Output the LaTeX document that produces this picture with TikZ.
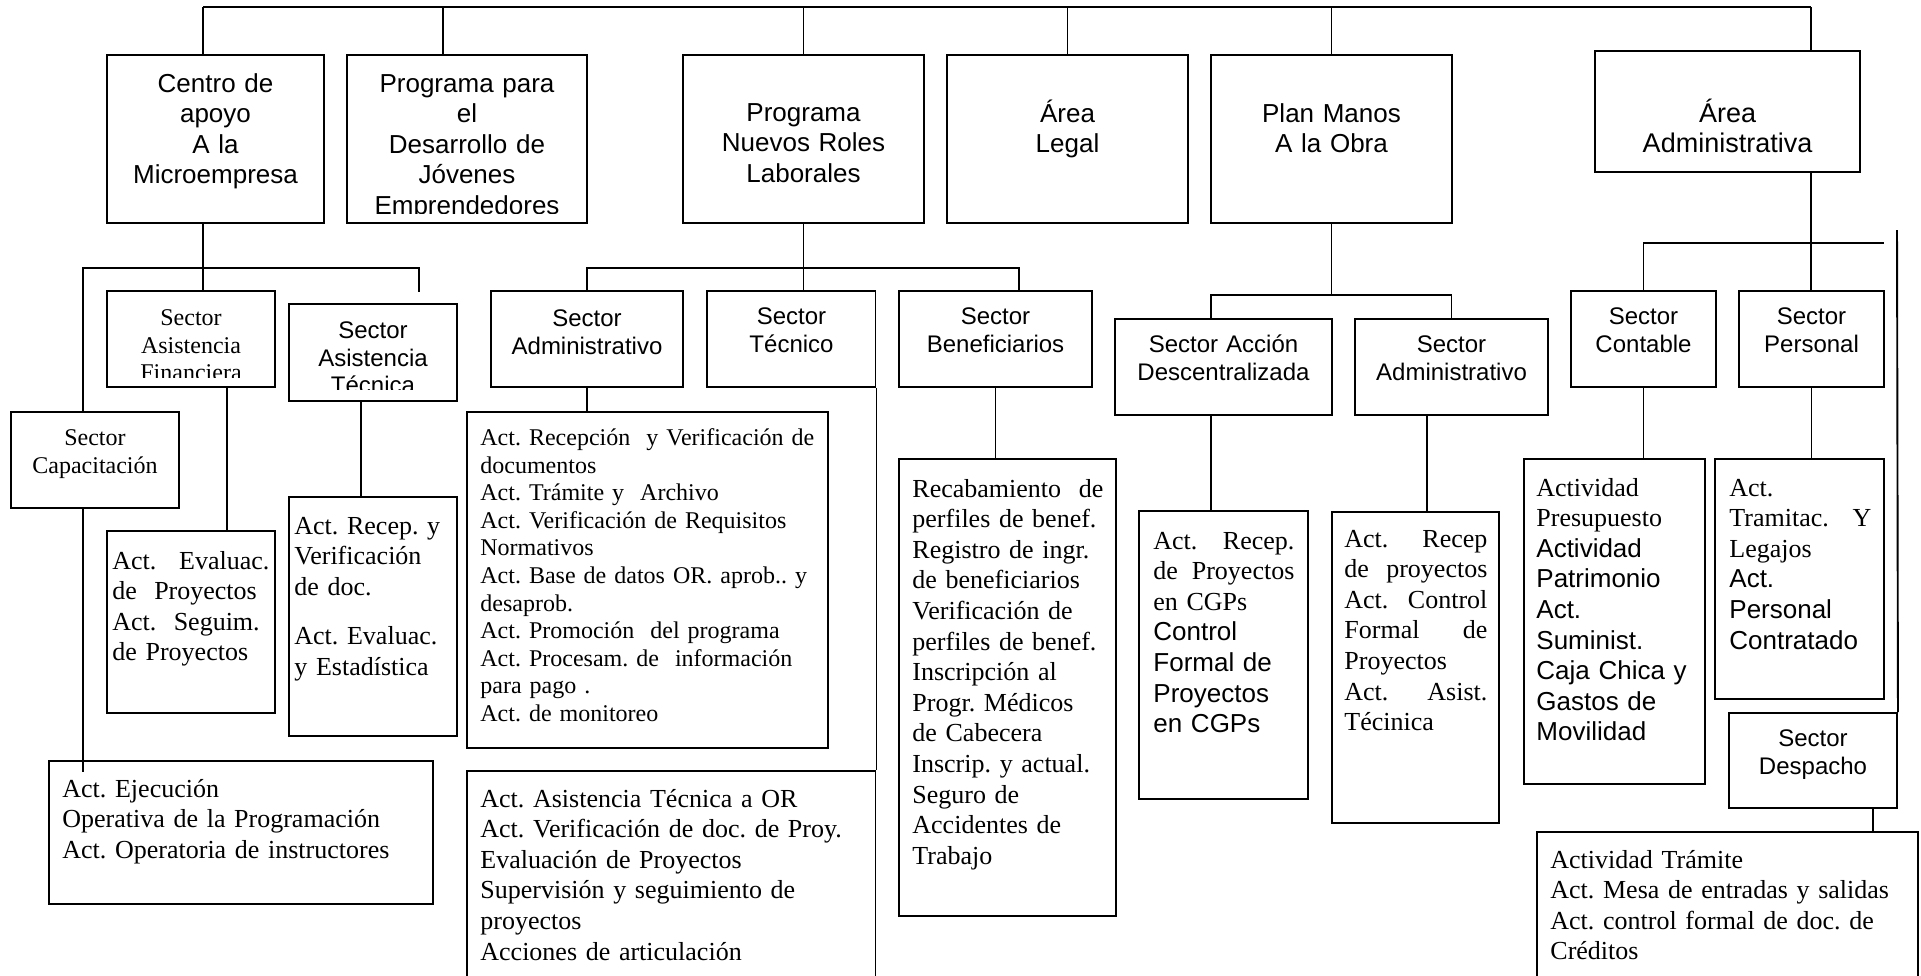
\documentclass[tikz,border=0pt]{standalone}
\usepackage{fontspec}
\setmainfont{Liberation Serif}
\setsansfont{Liberation Sans}
\usetikzlibrary{fit}
\newcommand{\jl}[2]{#1\hfill#2}

\begin{document}
\frenchspacing
\begin{tikzpicture}[
  x=0.5pt, y=-0.5pt,
  frame/.style={draw, line width=0.95pt, inner sep=0pt},
  link/.style={line width=0.95pt},
  ttl/.style={font=\sffamily\fontsize{13}{15.3}\selectfont, align=center,
              text width=115pt, anchor=base, inner sep=0pt},
  secS/.style={font=\sffamily\fontsize{12}{13.8}\selectfont, align=center,
               text width=100pt, anchor=base, inner sep=0pt},
  secR/.style={secS, font=\rmfamily\fontsize{12}{13.8}\selectfont},
  actR/.style={font=\rmfamily\fontsize{13}{15.3}\selectfont, align=left,
               text width=#1, anchor=base west, inner sep=0pt},
  actR/.default=180pt
]
\useasboundingbox (0,0) rectangle (1921,975);

% ---- top level ----
\node[frame, fit={(107,55)(324,223)}]   (centro)  {};
\node[frame, fit={(347,55)(587,223)}]   (jovenes) {};
\node[frame, fit={(683,55)(924,223)}]   (roles)   {};
\node[frame, fit={(947,55)(1188,223)}]  (legal)   {};
\node[frame, fit={(1211,55)(1452,223)}] (manos)   {};
\node[frame, fit={(1595,51)(1860,172)}] (areaadm) {};
\node[ttl] (centroT) at (215.5,92) {Centro de\\apoyo\\A la\\Microempresa};
\begin{scope}
  \clip (jovenes.north west) rectangle (587,213.5);
  \node[ttl] (jovenesT) at (467,92) {Programa para\\el\\Desarrollo de\\Jóvenes\\Emprendedores};
\end{scope}
\node[ttl] (rolesT) at (803.5,121) {Programa\\Nuevos Roles\\Laborales};
\node[ttl] (legalT) at (1067.5,122) {Área\\Legal};
\node[ttl] (manosT) at (1331.5,122) {Plan Manos\\A la Obra};
\node[ttl, font=\sffamily\fontsize{13.5}{15.3}\selectfont] (areaadmT) at (1727.5,122) {Área\\Administrativa};

% ---- Centro de apoyo ----
\node[frame, fit={(107,291)(275,387)}] (sfin) {};
\node[frame, fit={(289,304)(457,401)}] (stec) {};
\node[frame, fit={(11,412)(179,508)}]  (scap) {};
\node[frame, fit={(107,531)(275,713)}] (afin) {};
\node[frame, fit={(289,497)(457,736)}] (atec) {};
\node[frame, fit={(49,761)(433,904)}]  (acap) {};
\begin{scope}
  \clip (sfin.north west) rectangle (275,377);
  \node[secR] (sfinT) at (191,325.5) {Sector\\Asistencia\\Financiera};
\end{scope}
\begin{scope}
  \clip (stec.north west) rectangle (457,389);
  \node[secS] (stecT) at (373,338.5) {Sector\\Asistencia\\Técnica};
\end{scope}
\node[secR] (scapT) at (95,445.5) {Sector\\Capacitación};
\node[actR=78.5pt] (afinT) at (112,569) {\jl{Act.}{Evaluac.}\\de\ \ Proyectos\\Act.\ \ Seguim.\\de Proyectos};
\node[actR=80pt] (atecT) at (294,534) {Act. Recep. y\\Verificación\\de doc.\\[9.5pt]Act. Evaluac.\\y Estadística};
\node[actR] (acapT) at (62,797) {Act. Ejecución\\Operativa de la Programación\\Act. Operatoria de instructores};

% ---- Nuevos Roles ----
\node[frame, fit={(491,291)(683,387)}]   (radm)  {};
\node[frame, fit={(707,291)(875.5,387)}] (rtec)  {};
\node[frame, fit={(899,291)(1092,387)}]  (rben)  {};
\node[frame, fit={(467,412)(828,748)}]   (aradm) {};
\node[frame, fit={(467,771)(875.5,995)}] (artec) {};
\node[frame, fit={(899,459)(1116,916)}]  (arben) {};
\node[secS] (radmT) at (587,326.5) {Sector\\Administrativo};
\node[secS] (rtecT) at (791.5,324.5) {Sector\\Técnico};
\node[secS] (rbenT) at (995.5,324.5) {Sector\\Beneficiarios};
\node[actR=175pt, font=\rmfamily\fontsize{12}{13.8}\selectfont] (aradmT) at (480,445.5)
  {Act. Recepción\ \ y Verificación de\\documentos\\Act. Trámite y\ \ Archivo\\
   Act. Verificación de Requisitos\\Normativos\\Act. Base de datos OR. aprob.. y\\
   desaprob.\\Act. Promoción\ \ del programa\\Act. Procesam. de\ \ información\\
   para pago .\\Act. de monitoreo};
\node[actR=190pt] (artecT) at (480,807)
  {Act. Asistencia Técnica a OR\\Act. Verificación de doc. de Proy.\\Evaluación de Proyectos\\
   Supervisión y seguimiento de\\proyectos\\Acciones de articulación};
\node[actR=95.5pt] (arbenT) at (912,497)
  {\jl{Recabamiento}{de}\\perfiles de benef.\\Registro de ingr.\\de beneficiarios\\
   Verificación de\\perfiles de benef.\\Inscripción al\\Progr. Médicos\\de Cabecera\\
   Inscrip. y actual.\\Seguro de\\Accidentes de\\Trabajo};

% ---- Plan Manos a la Obra ----
\node[frame, fit={(1115,319)(1332,415)}] (mdesc)  {};
\node[frame, fit={(1355,319)(1548,415)}] (madm)   {};
\node[frame, fit={(1139,511)(1308,799)}] (amdesc) {};
\node[frame, fit={(1332,512)(1499,823)}] (amadm)  {};
\node[secS] (mdescT) at (1223.5,352.5) {Sector Acción\\Descentralizada};
\node[secS] (madmT) at (1451.5,352.5) {Sector\\Administrativo};
\node[actR=70.5pt] (amdescT) at (1153,549)
  {\jl{Act.}{Recep.}\\\jl{de}{Proyectos}\\en CGPs\\ \sffamily Control\\Formal de\\Proyectos\\en CGPs};
\node[actR=71.5pt] (amadmT) at (1344,547)
  {\jl{Act.}{Recep}\\\jl{de}{proyectos}\\\jl{Act.}{Control}\\\jl{Formal}{de}\\Proyectos\\\jl{Act.}{Asist.}\\Técinica};

% ---- Area Administrativa ----
\node[frame, fit={(1571,291)(1716,387)}] (scont) {};
\node[frame, fit={(1739,291)(1884,387)}] (spers) {};
\node[frame, fit={(1524,459)(1705,784)}] (acont) {};
\node[frame, fit={(1715,459)(1884,699)}] (apers) {};
\node[frame, fit={(1729,713)(1897,808)}] (sdesp) {};
\node[frame, fit={(1537,832)(1918,995)}] (adesp) {};
\node[secS] (scontT) at (1643.5,324.5) {Sector\\Contable};
\node[secS] (spersT) at (1811.5,324.5) {Sector\\Personal};
\node[secS] (sdespT) at (1813,746.5) {Sector\\Despacho};
\node[actR=82pt] (acontT) at (1536,496)
  {Actividad\\Presupuesto\\ \sffamily Actividad\\Patrimonio\\Act.\\Suminist.\\Caja Chica y\\Gastos de\\Movilidad};
\node[actR=71pt] (apersT) at (1729,496)
  {Act.\\\jl{Tramitac.}{Y}\\Legajos\\ \sffamily Act.\\Personal\\Contratado};
\node[actR] (adespT) at (1550,868)
  {Actividad Trámite\\Act. Mesa de entradas y salidas\\Act. control formal de doc. de\\Créditos};

% ---- connectors: top bus ----
\coordinate (busL) at (203,7);
\coordinate (jovx) at (443,7);
\coordinate (busR) at (1811,7);
\draw[link] (busL) -- (busR);
\draw[link] (busL) -- (busL |- centro.north);
\draw[link] (jovx) -- (jovx |- jovenes.north);
\foreach \n in {roles,legal,manos}
  \draw[link] (\n.north |- busL) -- (\n.north);
\draw[link] (busR) -- (busR |- areaadm.north);

% ---- connectors: Centro de apoyo ----
\coordinate (cleft) at (83,268);
\coordinate (cstub) at (419,292);
\coordinate (finx) at (227,0);
\coordinate (tecx) at (361,0);
\coordinate (capend) at (83,772);
\draw[link] (busL |- centro.south) -- (busL |- sfin.north);
\draw[link] (cleft |- scap.north) -- (cleft) -| (cstub);
\draw[link] (finx |- sfin.south) -- (finx |- afin.north);
\draw[link] (tecx |- stec.south) -- (tecx |- atec.north);
\draw[link] (capend |- scap.south) -- (capend);

% ---- connectors: Nuevos Roles ----
\coordinate (rright) at (1019,268);
\draw[link] (roles.south) -- (roles.south |- rtec.north);
\draw[link] (radm.north) |- (rright) -- (rright |- rben.north);
\draw[link] (radm.south) -- (radm.south |- aradm.north);
\draw[link] (rtec.south east) -- (artec.north east);
\draw[link] (rben.south) -- (rben.south |- arben.north);

% ---- connectors: Plan Manos ----
\coordinate (mright) at (1451.5,295);
\coordinate (mdescx) at (1211,0);
\coordinate (madmx) at (1427,0);
\draw[link] (manos.south) -- (manos.south |- mright);
\draw[link] (mdescx |- mdesc.north) |- (mright) -- (madm.north);
\draw[link] (mdescx |- mdesc.south) -- (mdescx |- amdesc.north);
\draw[link] (madmx |- madm.south) -- (madmx |- amadm.north);

% ---- connectors: Area Administrativa ----
\coordinate (aright) at (1884,243);
\coordinate (rim) at (1897,230);
\coordinate (despx) at (1873,0);
\draw[link] (busR |- areaadm.south) -- (busR |- spers.north);
\draw[link] (scont.north) |- (aright);
\draw[link] (scont.south) -- (scont.south |- acont.north);
\draw[link] (spers.south) -- (spers.south |- apers.north);
\draw[link] (rim) -- (sdesp.north east);
\draw[link] (despx |- sdesp.south) -- (despx |- adesp.north);
\end{tikzpicture}
\end{document}
